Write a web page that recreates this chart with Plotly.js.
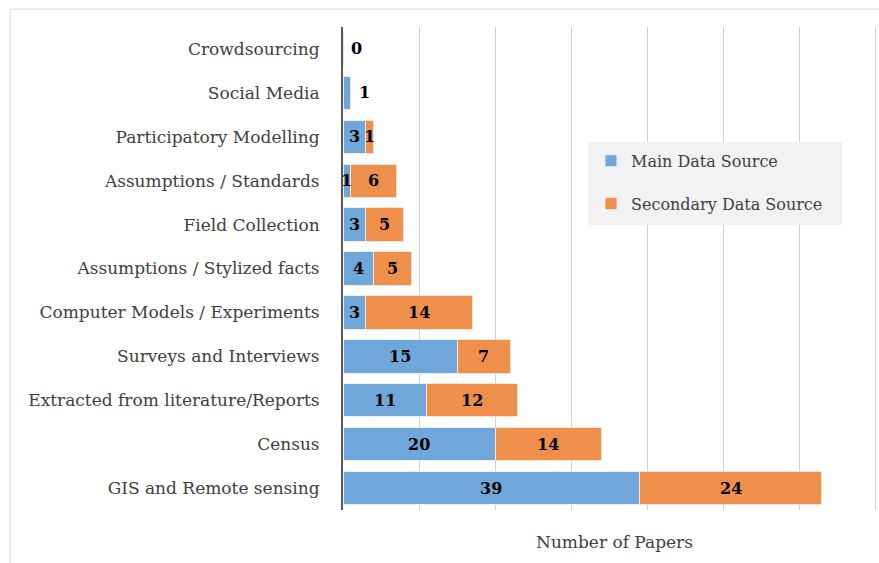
<!DOCTYPE html>
<html><head><meta charset="utf-8">
<script src="https://cdn.plot.ly/plotly-3.0.1.min.js"></script>
<style>body{margin:0;background:#fff}#chart{width:879px;height:563px}</style>
</head><body><div id="chart"></div>
<script>
const categories = ["Crowdsourcing","Social Media","Participatory Modelling","Assumptions / Standards","Field Collection","Assumptions / Stylized facts","Computer Models / Experiments","Surveys and Interviews","Extracted from literature/Reports","Census","GIS and Remote sensing"];
const mainValues = [0,1,3,1,3,4,3,15,11,20,39];
const secondaryValues = [0,0,1,6,5,5,14,7,12,14,24];
const seriesNames = ["Main Data Source","Secondary Data Source"];

const FONT = "DejaVu Serif";
const labelFont = {family: FONT, size: 16, color: "#000"};
const annotations = [];
categories.forEach((c, i) => {
  const m = mainValues[i], s = secondaryValues[i];
  if (s === 0 && m <= 1) {
    annotations.push({x: m, y: c, xref: "x", yref: "y", text: "<b>" + m + "</b>", showarrow: false, xanchor: "left", xshift: 6, font: labelFont});
  } else {
    annotations.push({x: m / 2, y: c, xref: "x", yref: "y", text: "<b>" + m + "</b>", showarrow: false, font: labelFont});
    annotations.push({x: m + s / 2, y: c, xref: "x", yref: "y", text: "<b>" + s + "</b>", showarrow: false, font: labelFont});
  }
});
annotations.push({x: 0.5, xref: "paper", xshift: 3, y: 0, yref: "paper", yshift: -32, yanchor: "middle", text: "Number of Papers", showarrow: false, font: {family: FONT, size: 17, color: "#404040"}});

const traces = [
  {type: "bar", orientation: "h", name: seriesNames[0], legendgroup: "a", y: categories, x: mainValues, marker: {color: "#70a7da", line: {color: "#e8f0f8", width: 1}}, hoverinfo: "x"},
  {type: "bar", orientation: "h", name: seriesNames[1], legendgroup: "b", y: categories, x: secondaryValues, marker: {color: "#ef8f4c", line: {color: "#fbe3d3", width: 1}}, hoverinfo: "x"}
];

const layout = {
  width: 879, height: 563,
  barmode: "stack", bargap: 0.24,
  margin: {l: 343, r: 0, t: 27, b: 53},
  paper_bgcolor: "#fff", plot_bgcolor: "#fff",
  font: {family: FONT, color: "#404040"},
  xaxis: {range: [0, 70.5], dtick: 10, showticklabels: false, showgrid: true, gridcolor: "#d0d0d0", gridwidth: 1, zeroline: false, showline: false, ticks: "", fixedrange: true},
  yaxis: {autorange: "reversed", tickfont: {family: FONT, size: 17, color: "#404040"}, ticks: "", ticklabelstandoff: 18, showline: true, linecolor: "#595959", linewidth: 2, showgrid: false, fixedrange: true},
  legend: {x: 0.4627, xanchor: "left", y: 0.758, yanchor: "top", bgcolor: "rgba(0,0,0,0)", font: {family: FONT, size: 16, color: "#404040"}, traceorder: "grouped", tracegroupgap: 19, itemwidth: 30},
  showlegend: true,
  annotations: annotations,
  shapes: [
    {type: "rect", xref: "paper", yref: "paper", x0: -0.621, x1: 1.1, y0: -0.3, y1: 1.037, line: {color: "#d9d9d9", width: 1}, fillcolor: "rgba(0,0,0,0)", layer: "below"},
    {type: "rect", xref: "paper", yref: "paper", x0: 0.457, x1: 0.931, y0: 0.590, y1: 0.762, line: {width: 0}, fillcolor: "#f2f2f2", layer: "above"}
  ]
};
Plotly.newPlot("chart", traces, layout, {displayModeBar: false, staticPlot: true});
</script></body></html>
